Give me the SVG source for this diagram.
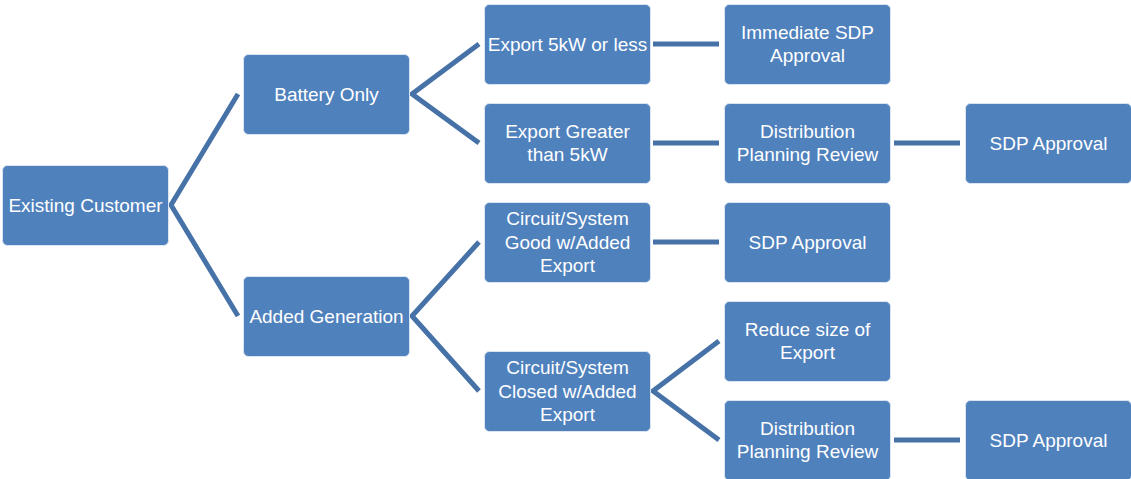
<svg xmlns="http://www.w3.org/2000/svg" width="1131" height="479" viewBox="0 0 1131 479">
  <style>
    .box { fill: #4f81bd; stroke: #dbe5f1; stroke-width: 1; }
    .lbl { fill: #ffffff; font-family: "Liberation Sans", Arial, sans-serif; font-size: 19px; text-anchor: middle; }
    .conn { fill: none; stroke: #4672a8; stroke-width: 5; stroke-linecap: butt; stroke-linejoin: miter; }
  </style>
  <rect width="1131" height="479" fill="#ffffff"/>

  <!-- connectors -->
  <g id="connectors">
    <polyline class="conn" points="238,94 171,205 238,316"/>
    <polyline class="conn" points="479,44 412,94 479,143"/>
    <polyline class="conn" points="479,242 412,316 479,391"/>
    <polyline class="conn" points="719,341 653,391 719,440"/>
    <line class="conn" x1="653" y1="44" x2="719" y2="44"/>
    <line class="conn" x1="653" y1="143" x2="719" y2="143"/>
    <line class="conn" x1="653" y1="242" x2="719" y2="242"/>
    <line class="conn" x1="894" y1="143" x2="960" y2="143"/>
    <line class="conn" x1="894" y1="440" x2="960" y2="440"/>
  </g>

  <!-- column 1 -->
  <g id="existing-customer">
    <rect class="box" x="2.5" y="165.5" width="166" height="80" rx="5"/>
    <text class="lbl" x="85.5" y="212">Existing Customer</text>
  </g>

  <!-- column 2 -->
  <g id="battery-only">
    <rect class="box" x="243.5" y="54.5" width="166" height="80" rx="5"/>
    <text class="lbl" x="326.5" y="101">Battery Only</text>
  </g>
  <g id="added-generation">
    <rect class="box" x="243.5" y="276.5" width="166" height="80" rx="5"/>
    <text class="lbl" x="326.5" y="323">Added Generation</text>
  </g>

  <!-- column 3 -->
  <g id="export-5kw-or-less">
    <rect class="box" x="484.5" y="4.5" width="166" height="80" rx="5"/>
    <text class="lbl" x="567.5" y="51">Export 5kW or less</text>
  </g>
  <g id="export-greater">
    <rect class="box" x="484.5" y="103.5" width="166" height="80" rx="5"/>
    <text class="lbl" x="567.5" y="138"><tspan x="567.5">Export Greater</tspan><tspan x="567.5" dy="23">than 5kW</tspan></text>
  </g>
  <g id="circuit-good">
    <rect class="box" x="484.5" y="202.5" width="166" height="80" rx="5"/>
    <text class="lbl" x="567.5" y="225"><tspan x="567.5">Circuit/System</tspan><tspan x="567.5" dy="23.5">Good w/Added</tspan><tspan x="567.5" dy="23.5">Export</tspan></text>
  </g>
  <g id="circuit-closed">
    <rect class="box" x="484.5" y="351.5" width="166" height="80" rx="5"/>
    <text class="lbl" x="567.5" y="374"><tspan x="567.5">Circuit/System</tspan><tspan x="567.5" dy="23.5">Closed w/Added</tspan><tspan x="567.5" dy="23.5">Export</tspan></text>
  </g>

  <!-- column 4 -->
  <g id="immediate-sdp-approval">
    <rect class="box" x="724.5" y="4.5" width="166" height="80" rx="5"/>
    <text class="lbl" x="807.5" y="39"><tspan x="807.5">Immediate SDP</tspan><tspan x="807.5" dy="23">Approval</tspan></text>
  </g>
  <g id="distribution-review-1">
    <rect class="box" x="724.5" y="103.5" width="166" height="80" rx="5"/>
    <text class="lbl" x="807.5" y="138"><tspan x="807.5">Distribution</tspan><tspan x="807.5" dy="23">Planning Review</tspan></text>
  </g>
  <g id="sdp-approval-good">
    <rect class="box" x="724.5" y="202.5" width="166" height="80" rx="5"/>
    <text class="lbl" x="807.5" y="249">SDP Approval</text>
  </g>
  <g id="reduce-export">
    <rect class="box" x="724.5" y="301.5" width="166" height="80" rx="5"/>
    <text class="lbl" x="807.5" y="336"><tspan x="807.5">Reduce size of</tspan><tspan x="807.5" dy="23">Export</tspan></text>
  </g>
  <g id="distribution-review-2">
    <rect class="box" x="724.5" y="400.5" width="166" height="80" rx="5"/>
    <text class="lbl" x="807.5" y="435"><tspan x="807.5">Distribution</tspan><tspan x="807.5" dy="23">Planning Review</tspan></text>
  </g>

  <!-- column 5 -->
  <g id="sdp-approval-1">
    <rect class="box" x="965.5" y="103.5" width="166" height="80" rx="5"/>
    <text class="lbl" x="1048.5" y="150">SDP Approval</text>
  </g>
  <g id="sdp-approval-2">
    <rect class="box" x="965.5" y="400.5" width="166" height="80" rx="5"/>
    <text class="lbl" x="1048.5" y="447">SDP Approval</text>
  </g>
</svg>
